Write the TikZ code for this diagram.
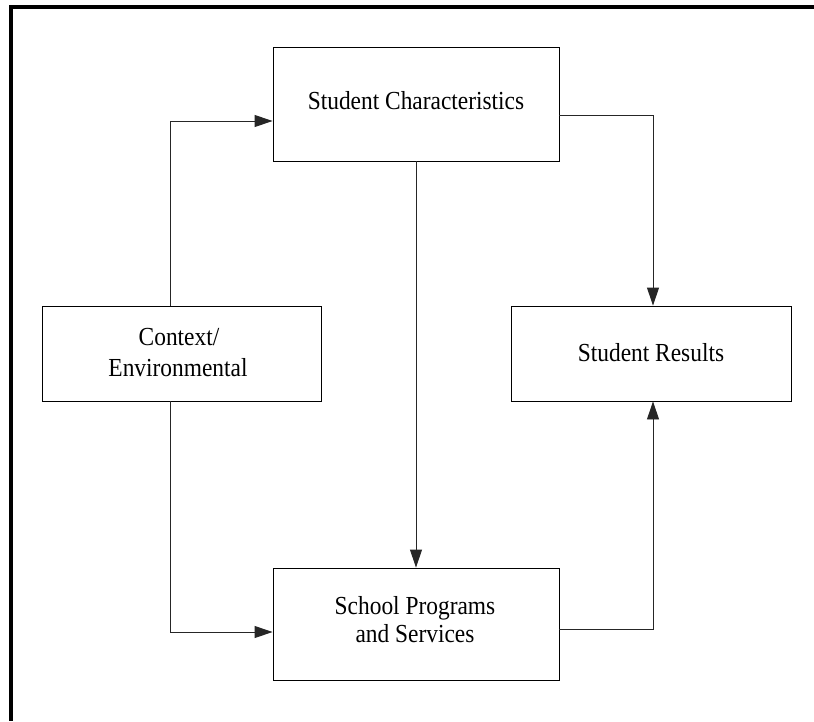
\documentclass[tikz,border=0pt]{standalone}
\usepackage{fontspec}
\setmainfont{Liberation Serif}[FakeStretch=0.9]
\usetikzlibrary{arrows.meta}
\begin{document}
\begin{tikzpicture}[x=1pt,y=-1pt,
  box/.style={draw=black,line width=0.9pt,inner sep=0pt,minimum width=#1},
  lbl/.style={inner sep=0pt,anchor=base,font=\fontsize{26}{30}\selectfont},
  arr/.style={draw=black!85,line width=0.9pt,-{Triangle[length=18pt,width=12pt]}},
  frame/.style={line width=3.3pt,black}]
\useasboundingbox (0,0) rectangle (814,721);
% frame
\coordinate (ftr) at (814,7);
\coordinate (ftl) at (9.4,7);
\coordinate (fl) at (11,5.4);
\coordinate (fbl) at (11,721);
\draw[frame] (ftl) -- (ftr);
\draw[frame] (fl) -- (fbl);
% boxes
\node[box=286pt,minimum height=114pt] (sc) at (416,104) {};
\node[box=279pt,minimum height=95pt] (ctx) at (181.5,353.5) {};
\node[box=280pt,minimum height=95pt] (res) at (651,353.5) {};
\node[box=286pt,minimum height=112pt] (sp) at (416,624) {};
% labels
\node[lbl] (t1) at (416,109) {Student Characteristics};
\node[lbl] (t2) at (179,345) {Context/};
\node[lbl] (t3) at (178,376) {Environmental};
\node[lbl] (t4) at (651,361) {Student Results};
\node[lbl] (t5) at (415,614) {School Programs};
\node[lbl] (t6) at (415,642) {and Services};
% connectors
\draw[arr] ([xshift=-11.5pt]ctx.north) |- ([yshift=-17pt]sc.west);
\draw[arr] ([xshift=-11.5pt]ctx.south) |- ([yshift=-8pt]sp.west);
\draw[arr] (sc.south) -- (sp.north);
\draw[arr] ([yshift=-11pt]sc.east) -| ([xshift=2pt]res.north);
\draw[arr] ([yshift=-5pt]sp.east) -| ([xshift=2pt]res.south);
\end{tikzpicture}
\end{document}
